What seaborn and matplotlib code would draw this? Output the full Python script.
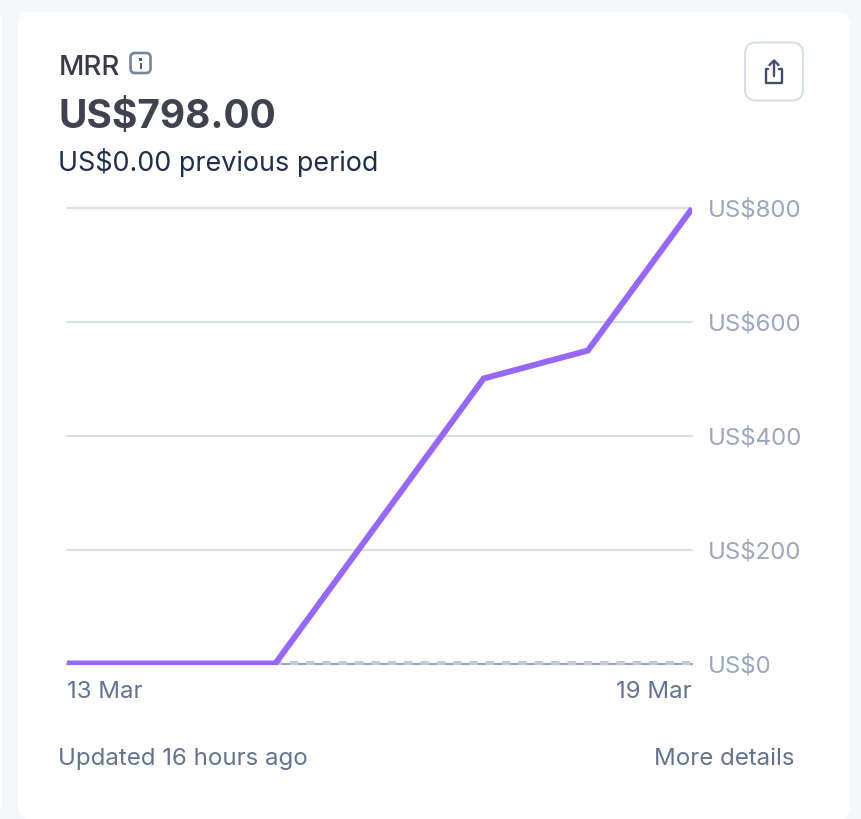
import matplotlib
matplotlib.use("Agg")
import matplotlib.pyplot as plt
from matplotlib.patches import FancyBboxPatch, Rectangle
from matplotlib.transforms import ScaledTranslation
import pandas as pd
import seaborn as sns

days = ["13 Mar", "14 Mar", "15 Mar", "16 Mar", "17 Mar", "18 Mar", "19 Mar"]
current_period = [0, 0, 0, 250, 500, 549, 798]
previous_period = [0, 0, 0, 0, 0, 0, 0]
y_ticks = [0, 200, 400, 600, 800]
y_tick_labels = ["US$0", "US$200", "US$400", "US$600", "US$800"]
x_tick_labels = ["13 Mar", "19 Mar"]

W, H = 862, 820
BG = "#f5f7fb"
PURPLE = "#9668f5"
GRID = "#d6deea"
sns.set_theme(style="white")
plt.rcParams["font.family"] = ["Inter", "DejaVu Sans"]

fig = plt.figure(figsize=(W / 100, H / 100), dpi=100, facecolor="white")

# pixel-coordinate overlay for the card and decorations
pg = fig.add_axes([0, 0, 1, 1], zorder=0)
pg.set_xlim(0, W); pg.set_ylim(H, 0); pg.axis("off")
pg.add_patch(FancyBboxPatch((-60, -60), 922, 960, boxstyle="round,pad=0,rounding_size=9",
                            fc=BG, ec="none"))
pg.add_patch(FancyBboxPatch((18, 12.5), 832, 808.5, boxstyle="round,pad=0,rounding_size=14",
                            fc="white", ec="none"))
pg.add_patch(FancyBboxPatch((-30, 16), 32, 795, boxstyle="round,pad=0,rounding_size=3",
                            fc="white", ec="none"))

pg.text(58.4, 65, "MRR", fontsize=20, fontweight="medium", color="#383a47", va="center_baseline")
pg.text(58.2, 114, "US$798.00", fontsize=28, fontweight="bold", color="#40424f", va="center_baseline")
pg.text(58.4, 159.8, "US$0.00 previous period", fontsize=19.4, color="#1f2f4a", va="center_baseline")
pg.text(58.4, 757, "Updated 16 hours ago", fontsize=17.3, color="#64738f", va="center_baseline")
pg.text(794.8, 757, "More details", fontsize=17.3, color="#64738f", ha="right", va="center_baseline")

# info icon
pg.add_patch(FancyBboxPatch((130.5, 54), 20, 20, boxstyle="round,pad=0,rounding_size=4.5",
                            fc="white", ec="#75849f", lw=1.9))
pg.add_patch(Rectangle((139.3, 59), 2.6, 2.6, fc="#4c5a75", ec="none"))
pg.add_patch(Rectangle((139.8, 63.5), 2.4, 6, fc="#4c5a75", ec="none"))

# share button
pg.add_patch(FancyBboxPatch((745, 43.5), 58, 58, boxstyle="round,pad=0,rounding_size=11",
                            fc="white", ec=GRID, lw=1.5))
pg.plot([768.5, 766, 766, 782, 782, 779.5], [69.5, 69.5, 83.5, 83.5, 69.5, 69.5], color="#3f4f6b", lw=1.7,
        solid_joinstyle="round", solid_capstyle="round")
pg.plot([774, 774], [62.5, 76.5], color="#3f4f6b", lw=1.7, solid_capstyle="round")
pg.plot([769.5, 774, 778.5], [66, 61.5, 66], color="#3f4f6b", lw=1.7, solid_capstyle="round")
pg.set_xlim(0, W); pg.set_ylim(H, 0)

# chart
ax = fig.add_axes([67 / W, 1 - 664.5 / H, (692 - 67) / W, (664.5 - 208.5) / H], zorder=1)
ax.patch.set_alpha(0)
df = pd.DataFrame({"pos": range(len(days)), "day": days,
                   "current": current_period, "previous": previous_period})

for t in y_ticks[1:]:
    ax.axhline(t, color=GRID, lw=1.5, zorder=1, clip_on=False)
ax.axhline(0, color="#9aa7bb", lw=1.6, zorder=1, clip_on=False)
sns.lineplot(data=df, x="pos", y="previous", ax=ax, color="#c3cad5", lw=4.3,
             zorder=2, errorbar=None)
prev_line = ax.lines[-1]
prev_line.set_linestyle((0.99, (1.395, 1.34)))
prev_line.set_dash_capstyle("butt")
sns.lineplot(data=df, x="pos", y="current", ax=ax, color=PURPLE, lw=4.3,
             zorder=3, errorbar=None)
cur_line = ax.lines[-1]
cur_line.set_solid_joinstyle("miter")
cur_line.set_solid_capstyle("butt")
for line in (prev_line, cur_line):
    line.set_clip_path(Rectangle((67, 206.5), 625, 459.3, transform=pg.transData))

ax.set_xlim(0, len(days) - 1)
ax.set_ylim(0, 800)
for s in ax.spines.values():
    s.set_visible(False)
ax.set_xlabel(""); ax.set_ylabel("")
ax.yaxis.tick_right()
ax.set_yticks(y_ticks, y_tick_labels)
ax.tick_params(axis="y", length=0, pad=11.5, labelsize=17.3, labelcolor="#9aa7bd")
ax.set_xticks([0, len(days) - 1], x_tick_labels)
ax.tick_params(axis="x", length=6, width=1.4, color="#9aa7bb", pad=6, labelsize=17.3, labelcolor="#64738f")
xl = ax.get_xticklabels()
xl[0].set_ha("left"); xl[1].set_ha("right")
up = ScaledTranslation(0, 1 / 100, fig.dpi_scale_trans)
for lab in ax.get_yticklabels():
    lab.set_transform(lab.get_transform() + up)

fig.savefig("out.png", dpi=100, facecolor="white")
